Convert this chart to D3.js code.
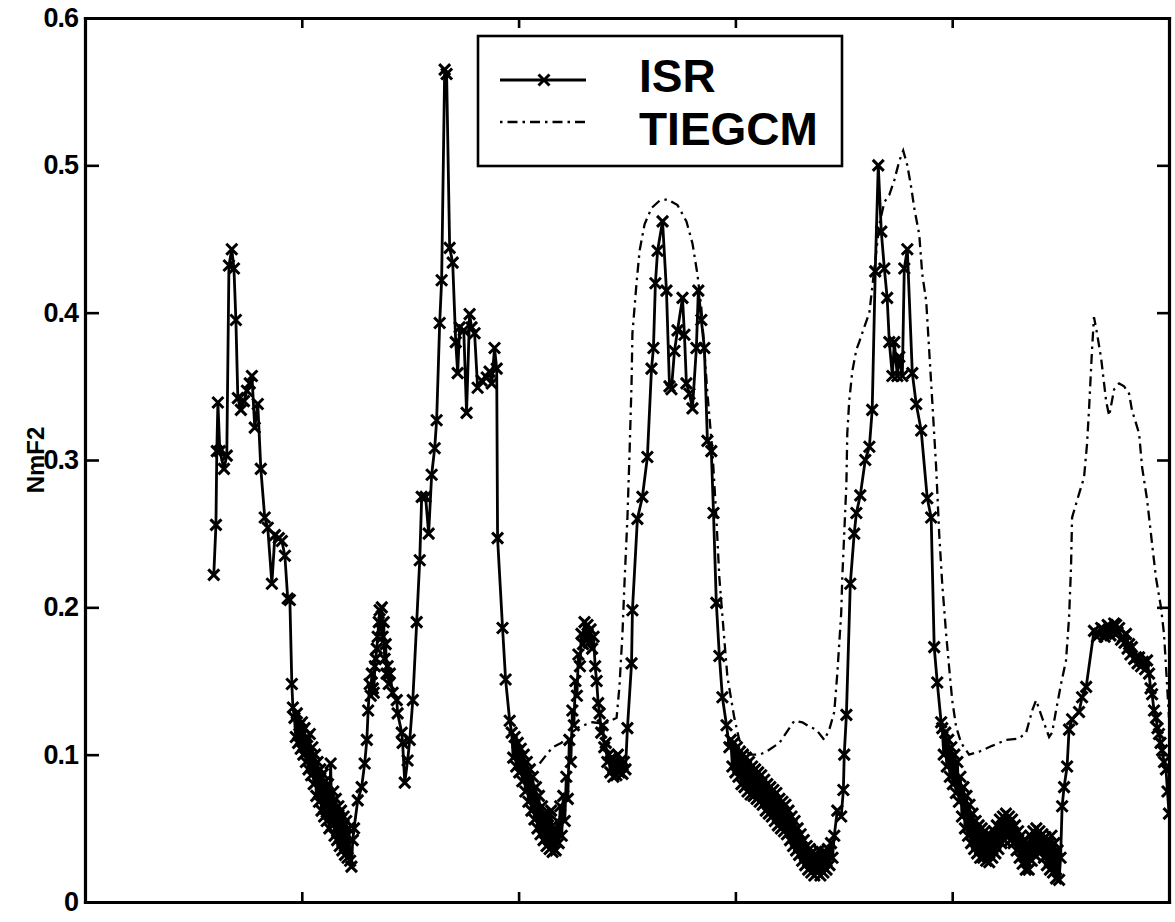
<!doctype html>
<html>

<head>
    <meta charset="utf-8">
    <title>NmF2 ISR vs TIEGCM</title>
    <script type="text/javascript" src="https://cdn.jsdelivr.net/npm/d3@7"></script>
    <style type="text/css">
        html,
        body {
            margin: 0;
            padding: 0;
            background: #fff;
        }

        svg text {
            font-family: "Liberation Sans", Arial, Helvetica, sans-serif;
        }
    </style>

    <script type="text/javascript">
        // [day, NmF2]; x axis runs 0..5 days and is unlabelled
        var isrSamples = [
            [0.594, 0.222], [0.604, 0.256], [0.608, 0.306], [0.613, 0.339], [0.622, 0.306], [0.641, 0.294],
            [0.654, 0.303], [0.664, 0.432], [0.677, 0.443], [0.687, 0.430], [0.696, 0.395], [0.705, 0.342],
            [0.719, 0.334], [0.733, 0.340], [0.747, 0.347], [0.760, 0.352], [0.770, 0.357], [0.783, 0.322],
            [0.797, 0.338], [0.811, 0.294], [0.829, 0.261], [0.843, 0.254], [0.862, 0.216], [0.876, 0.249],
            [0.894, 0.247], [0.908, 0.245], [0.922, 0.235], [0.935, 0.206], [0.945, 0.205], [0.954, 0.148],
            [0.959, 0.132],
            // first night
            [0.966, 0.125], [0.972, 0.112], [0.977, 0.128], [0.983, 0.108], [0.989, 0.120], [0.995, 0.104],
            [1.001, 0.122], [1.007, 0.100], [1.013, 0.118], [1.019, 0.095], [1.025, 0.112], [1.031, 0.090],
            [1.037, 0.114], [1.043, 0.086], [1.049, 0.105], [1.055, 0.080], [1.061, 0.100], [1.067, 0.072],
            [1.073, 0.095], [1.079, 0.068], [1.085, 0.090], [1.091, 0.062], [1.097, 0.087], [1.103, 0.058],
            [1.109, 0.082], [1.115, 0.055], [1.121, 0.080], [1.127, 0.050], [1.133, 0.094], [1.139, 0.052],
            [1.145, 0.075], [1.151, 0.045], [1.157, 0.070], [1.163, 0.042], [1.169, 0.065], [1.175, 0.038],
            [1.181, 0.062], [1.187, 0.035], [1.193, 0.058], [1.199, 0.032], [1.205, 0.055], [1.211, 0.030],
            [1.217, 0.050], [1.223, 0.028], [1.229, 0.024], [1.235, 0.042], [1.241, 0.050], [1.258, 0.069],
            [1.276, 0.078], [1.290, 0.094], [1.300, 0.110], [1.306, 0.130], [1.313, 0.148], [1.318, 0.140],
            [1.323, 0.155], [1.328, 0.145], [1.332, 0.142], [1.337, 0.160], [1.341, 0.165], [1.346, 0.172],
            [1.350, 0.180], [1.355, 0.190], [1.359, 0.198], [1.364, 0.185], [1.369, 0.200], [1.373, 0.180],
            [1.378, 0.190], [1.382, 0.165], [1.387, 0.175], [1.391, 0.155], [1.396, 0.160], [1.401, 0.148],
            [1.406, 0.155], [1.419, 0.142], [1.438, 0.137], [1.442, 0.128], [1.461, 0.115], [1.465, 0.108],
            [1.475, 0.081], [1.488, 0.096], [1.498, 0.110],
            // second day
            [1.512, 0.137], [1.530, 0.190], [1.544, 0.232], [1.553, 0.275], [1.571, 0.275], [1.585, 0.250],
            [1.599, 0.290], [1.613, 0.308], [1.622, 0.327], [1.636, 0.393], [1.645, 0.422], [1.659, 0.565],
            [1.668, 0.562], [1.682, 0.444], [1.696, 0.434], [1.710, 0.380], [1.719, 0.359], [1.728, 0.390],
            [1.747, 0.388], [1.760, 0.332], [1.774, 0.399], [1.783, 0.390], [1.797, 0.386], [1.811, 0.349],
            [1.829, 0.354], [1.853, 0.356], [1.866, 0.360], [1.876, 0.352], [1.889, 0.376], [1.899, 0.362],
            [1.903, 0.247], [1.926, 0.186], [1.940, 0.151], [1.959, 0.123],
            // second night
            [1.968, 0.115], [1.975, 0.098], [1.982, 0.112], [1.989, 0.092], [1.996, 0.108], [2.003, 0.088],
            [2.010, 0.104], [2.017, 0.082], [2.024, 0.100], [2.031, 0.075], [2.038, 0.095], [2.045, 0.068],
            [2.052, 0.090], [2.059, 0.062], [2.066, 0.085], [2.073, 0.056], [2.080, 0.078], [2.087, 0.050],
            [2.094, 0.072], [2.101, 0.046], [2.108, 0.065], [2.115, 0.042], [2.122, 0.060], [2.129, 0.038],
            [2.136, 0.058], [2.143, 0.036], [2.150, 0.062], [2.157, 0.034], [2.164, 0.050], [2.171, 0.035],
            [2.178, 0.055], [2.185, 0.040], [2.192, 0.065], [2.199, 0.045], [2.206, 0.072], [2.213, 0.055],
            [2.220, 0.085], [2.227, 0.070], [2.234, 0.110], [2.241, 0.095], [2.248, 0.130], [2.255, 0.120],
            [2.262, 0.150], [2.269, 0.140], [2.276, 0.168], [2.283, 0.160], [2.290, 0.182], [2.297, 0.175],
            [2.304, 0.190], [2.311, 0.178], [2.318, 0.188], [2.325, 0.176], [2.332, 0.185], [2.339, 0.172],
            [2.346, 0.180], [2.353, 0.160], [2.360, 0.150], [2.367, 0.135], [2.374, 0.128], [2.381, 0.115],
            [2.388, 0.120], [2.395, 0.105], [2.402, 0.108], [2.409, 0.095], [2.416, 0.100], [2.423, 0.088],
            [2.430, 0.098], [2.437, 0.085], [2.444, 0.095], [2.451, 0.086], [2.458, 0.100], [2.465, 0.088],
            [2.472, 0.096], [2.479, 0.087], [2.486, 0.095], [2.493, 0.090],
            // third day
            [2.502, 0.118], [2.521, 0.162], [2.525, 0.198], [2.548, 0.260], [2.571, 0.275], [2.594, 0.302],
            [2.613, 0.362], [2.622, 0.376], [2.631, 0.420], [2.641, 0.442], [2.664, 0.462], [2.682, 0.415],
            [2.696, 0.350], [2.705, 0.348], [2.719, 0.374], [2.733, 0.388], [2.756, 0.410], [2.765, 0.385],
            [2.774, 0.352], [2.788, 0.345], [2.802, 0.335], [2.820, 0.376], [2.829, 0.415], [2.843, 0.395],
            [2.857, 0.376], [2.871, 0.313], [2.889, 0.306], [2.899, 0.264], [2.912, 0.203], [2.926, 0.167],
            [2.940, 0.139], [2.959, 0.120], [2.972, 0.105],
            // third night
            [2.979, 0.110], [2.986, 0.092], [2.993, 0.108], [3.000, 0.088], [3.007, 0.105], [3.014, 0.085],
            [3.021, 0.102], [3.028, 0.080], [3.035, 0.100], [3.042, 0.078], [3.049, 0.098], [3.056, 0.075],
            [3.063, 0.095], [3.070, 0.073], [3.077, 0.092], [3.084, 0.072], [3.091, 0.090], [3.098, 0.070],
            [3.105, 0.088], [3.112, 0.068], [3.119, 0.086], [3.126, 0.066], [3.133, 0.083], [3.140, 0.062],
            [3.147, 0.080], [3.154, 0.060], [3.161, 0.078], [3.168, 0.058], [3.175, 0.076], [3.182, 0.055],
            [3.189, 0.074], [3.196, 0.052], [3.203, 0.070], [3.210, 0.050], [3.217, 0.068], [3.224, 0.048],
            [3.231, 0.066], [3.238, 0.046], [3.245, 0.062], [3.252, 0.042], [3.259, 0.058], [3.266, 0.038],
            [3.273, 0.055], [3.280, 0.035], [3.287, 0.050], [3.294, 0.032], [3.301, 0.046], [3.308, 0.028],
            [3.315, 0.042], [3.322, 0.025], [3.329, 0.038], [3.336, 0.022], [3.343, 0.036], [3.350, 0.020],
            [3.357, 0.034], [3.364, 0.018], [3.371, 0.032], [3.378, 0.020], [3.385, 0.035], [3.392, 0.018],
            [3.399, 0.033], [3.406, 0.020], [3.413, 0.034], [3.420, 0.022], [3.427, 0.036], [3.434, 0.025],
            [3.441, 0.040], [3.448, 0.030], [3.456, 0.045],
            // fourth day
            [3.470, 0.062], [3.488, 0.058], [3.498, 0.076], [3.502, 0.100], [3.512, 0.127], [3.530, 0.216],
            [3.548, 0.250], [3.558, 0.264], [3.576, 0.276], [3.599, 0.300], [3.618, 0.309], [3.631, 0.334],
            [3.645, 0.428], [3.659, 0.500], [3.673, 0.455], [3.687, 0.430], [3.700, 0.410], [3.710, 0.380],
            [3.724, 0.357], [3.733, 0.380], [3.747, 0.357], [3.756, 0.370], [3.770, 0.357], [3.779, 0.430],
            [3.793, 0.443], [3.816, 0.359], [3.834, 0.338], [3.857, 0.320], [3.885, 0.274], [3.903, 0.261],
            [3.917, 0.173], [3.931, 0.149], [3.949, 0.122],
            // fourth night
            [3.954, 0.118], [3.961, 0.100], [3.968, 0.115], [3.975, 0.092], [3.982, 0.110], [3.989, 0.085],
            [3.996, 0.105], [4.003, 0.080], [4.010, 0.100], [4.017, 0.074], [4.024, 0.095], [4.031, 0.068],
            [4.038, 0.085], [4.045, 0.058], [4.052, 0.078], [4.059, 0.050], [4.066, 0.072], [4.073, 0.045],
            [4.080, 0.066], [4.087, 0.040], [4.094, 0.060], [4.101, 0.036], [4.108, 0.055], [4.115, 0.033],
            [4.122, 0.052], [4.129, 0.030], [4.136, 0.050], [4.143, 0.030], [4.150, 0.048], [4.157, 0.028],
            [4.164, 0.046], [4.171, 0.027], [4.178, 0.045], [4.185, 0.030], [4.192, 0.048], [4.199, 0.033],
            [4.206, 0.052], [4.213, 0.036], [4.220, 0.056], [4.227, 0.040], [4.234, 0.058], [4.241, 0.042],
            [4.248, 0.060], [4.255, 0.045], [4.262, 0.058], [4.269, 0.042], [4.276, 0.056], [4.283, 0.040],
            [4.290, 0.052], [4.297, 0.035], [4.304, 0.048], [4.311, 0.030], [4.318, 0.045], [4.325, 0.026],
            [4.332, 0.042], [4.339, 0.022], [4.346, 0.040], [4.353, 0.022], [4.360, 0.045], [4.367, 0.028],
            [4.374, 0.048], [4.381, 0.032], [4.388, 0.050], [4.395, 0.035], [4.402, 0.048], [4.409, 0.034],
            [4.416, 0.046], [4.423, 0.030], [4.430, 0.044], [4.437, 0.025], [4.444, 0.040], [4.451, 0.022],
            [4.458, 0.045], [4.465, 0.020], [4.472, 0.040], [4.479, 0.016], [4.486, 0.035], [4.493, 0.015],
            [4.500, 0.030],
            // fifth day
            [4.507, 0.065], [4.516, 0.078], [4.530, 0.092], [4.539, 0.117], [4.553, 0.124], [4.585, 0.129],
            [4.599, 0.139], [4.618, 0.146], [4.654, 0.184], [4.668, 0.180], [4.677, 0.182], [4.687, 0.186],
            [4.696, 0.185], [4.703, 0.180], [4.710, 0.182], [4.717, 0.188], [4.724, 0.187], [4.730, 0.181],
            [4.737, 0.184], [4.747, 0.189], [4.756, 0.188], [4.763, 0.183], [4.770, 0.186], [4.779, 0.178],
            [4.788, 0.180], [4.795, 0.176], [4.802, 0.182], [4.809, 0.172], [4.816, 0.175], [4.822, 0.168],
            [4.829, 0.173], [4.839, 0.165], [4.848, 0.166], [4.855, 0.162], [4.862, 0.166], [4.871, 0.160],
            [4.880, 0.163], [4.890, 0.158], [4.899, 0.164], [4.908, 0.155], [4.915, 0.145], [4.922, 0.141],
            [4.931, 0.130], [4.940, 0.125], [4.947, 0.118], [4.954, 0.114], [4.961, 0.108], [4.968, 0.103],
            [4.977, 0.095], [4.986, 0.090], [4.993, 0.075], [5.000, 0.060]
        ]

        var tiegcmSamples = [
            [2.097, 0.094], [2.129, 0.100], [2.157, 0.105], [2.198, 0.108], [2.235, 0.114], [2.281, 0.119],
            [2.341, 0.122], [2.396, 0.121], [2.452, 0.125], [2.465, 0.146], [2.479, 0.182], [2.488, 0.215],
            [2.502, 0.261], [2.512, 0.306], [2.521, 0.352], [2.525, 0.386], [2.544, 0.420], [2.558, 0.442],
            [2.581, 0.460], [2.613, 0.471], [2.650, 0.476], [2.687, 0.477], [2.733, 0.473], [2.774, 0.462],
            [2.802, 0.447], [2.825, 0.426], [2.843, 0.403], [2.857, 0.374], [2.871, 0.345], [2.894, 0.306],
            [2.912, 0.261], [2.926, 0.220], [2.949, 0.178], [2.963, 0.153], [2.995, 0.125], [3.018, 0.110],
            [3.065, 0.100], [3.111, 0.100], [3.143, 0.102], [3.203, 0.108], [3.249, 0.118], [3.272, 0.123],
            [3.309, 0.122], [3.341, 0.119], [3.373, 0.117], [3.410, 0.110], [3.433, 0.117], [3.456, 0.129],
            [3.470, 0.155], [3.488, 0.196], [3.493, 0.220], [3.502, 0.250], [3.512, 0.284], [3.516, 0.318],
            [3.525, 0.340], [3.539, 0.360], [3.558, 0.375], [3.571, 0.380], [3.594, 0.390], [3.618, 0.400],
            [3.641, 0.430], [3.664, 0.460], [3.687, 0.475], [3.710, 0.480], [3.733, 0.490], [3.756, 0.503],
            [3.774, 0.510], [3.793, 0.500], [3.811, 0.485], [3.825, 0.471], [3.848, 0.453], [3.862, 0.426],
            [3.880, 0.408], [3.894, 0.374], [3.908, 0.340], [3.926, 0.295], [3.940, 0.250], [3.954, 0.216],
            [3.972, 0.182], [3.986, 0.159], [4.000, 0.137], [4.018, 0.119], [4.041, 0.108], [4.078, 0.100],
            [4.124, 0.102], [4.184, 0.106], [4.249, 0.110], [4.309, 0.111], [4.341, 0.115], [4.369, 0.130],
            [4.387, 0.137], [4.415, 0.125], [4.447, 0.112], [4.461, 0.115], [4.479, 0.130], [4.502, 0.148],
            [4.525, 0.164], [4.539, 0.193], [4.548, 0.227], [4.553, 0.261], [4.585, 0.277], [4.608, 0.288],
            [4.622, 0.311], [4.631, 0.334], [4.645, 0.375], [4.654, 0.397], [4.668, 0.386], [4.687, 0.369],
            [4.710, 0.340], [4.724, 0.330], [4.747, 0.348], [4.770, 0.352], [4.793, 0.350], [4.816, 0.345],
            [4.829, 0.334], [4.862, 0.318], [4.876, 0.295], [4.899, 0.273], [4.922, 0.243], [4.940, 0.220],
            [4.963, 0.200], [4.977, 0.182], [4.986, 0.160], [5.000, 0.125]
        ]

        var yTicks = [0, 0.1, 0.2, 0.3, 0.4, 0.5, 0.6]
        var xTicks = [0, 1, 2, 3, 4, 5]
        var seriesNames = ["ISR", "TIEGCM"]

        document.addEventListener("DOMContentLoaded", function (event) {

            var width = 1175,
                height = 922

            var margin = { left: 85, right: 6, top: 18, bottom: 20 }

            var svg = d3.select("#chart")
                .append("svg")
                .attr("width", width)
                .attr("height", height)

            svg.append("rect")
                .attr("width", width)
                .attr("height", height)
                .attr("fill", "#fff")

            var x = d3.scaleLinear()
                .domain([0, 5])
                .range([margin.left, width - margin.right])

            var y = d3.scaleLinear()
                .domain([0, 0.6])
                .range([height - margin.bottom, margin.top])

            svg.append("clipPath")
                .attr("id", "plot-clip")
                .append("rect")
                .attr("x", x(0))
                .attr("y", y(0.6))
                .attr("width", x(5) - x(0))
                .attr("height", y(0) - y(0.6))

            var line = d3.line()
                .x(function (d) { return x(d[0]) })
                .y(function (d) { return y(d[1]) })

            var plot = svg.append("g")
                .attr("clip-path", "url(#plot-clip)")

            // model curve, dash-dot
            plot.append("path")
                .datum(tiegcmSamples)
                .attr("d", line)
                .attr("fill", "none")
                .attr("stroke", "#000")
                .attr("stroke-width", 2.3)
                .attr("stroke-dasharray", "10,5,2.5,5")

            // radar curve with x markers
            plot.append("path")
                .datum(isrSamples)
                .attr("d", line)
                .attr("fill", "none")
                .attr("stroke", "#000")
                .attr("stroke-width", 2.8)
                .attr("stroke-linejoin", "round")

            var cross = "M-5.5,-5.5L5.5,5.5M-5.5,5.5L5.5,-5.5"

            plot.selectAll("path.mark")
                .data(isrSamples)
                .enter()
                .append("path")
                .attr("class", "mark")
                .attr("d", cross)
                .attr("transform", function (d) {
                    return "translate(" + x(d[0]) + "," + y(d[1]) + ")"
                })
                .attr("stroke", "#000")
                .attr("stroke-width", 3)

            // frame: ticks point inward on all four sides
            var fmt = function (d) { return d === 0 ? "0" : d3.format(".1f")(d) }

            var left = svg.append("g")
                .attr("transform", "translate(" + x(0) + ",0)")
                .call(d3.axisLeft(y).tickValues(yTicks).tickFormat(fmt)
                    .tickSizeInner(-14).tickSizeOuter(0).tickPadding(7))

            svg.append("g")
                .attr("transform", "translate(" + x(5) + ",0)")
                .call(d3.axisRight(y).tickValues(yTicks).tickFormat("")
                    .tickSizeInner(-12).tickSizeOuter(0))

            svg.append("g")
                .attr("transform", "translate(0," + y(0) + ")")
                .call(d3.axisBottom(x).tickValues(xTicks).tickFormat("")
                    .tickSizeInner(-10).tickSizeOuter(0))

            svg.append("g")
                .attr("transform", "translate(0," + y(0.6) + ")")
                .call(d3.axisTop(x).tickValues(xTicks).tickFormat("")
                    .tickSizeInner(-10).tickSizeOuter(0))

            svg.selectAll(".domain")
                .attr("stroke", "#000")
                .attr("stroke-width", 3.2)
                .attr("stroke-linecap", "square")

            svg.selectAll(".tick line")
                .attr("stroke", "#000")
                .attr("stroke-width", 2.6)

            left.selectAll(".tick text")
                .attr("fill", "#000")
                .style("font-size", "27px")
                .style("font-weight", "bold")
                .style("letter-spacing", "-1px")

            svg.append("text")
                .attr("transform", "translate(44," + y(0.3) + ") rotate(-90)")
                .attr("text-anchor", "middle")
                .style("font-size", "24px")
                .style("font-weight", "bold")
                .text("NmF2")

            // legend
            var legend = svg.append("g")
                .attr("transform", "translate(478,36)")

            legend.append("rect")
                .attr("width", 364)
                .attr("height", 130)
                .attr("fill", "#fff")
                .attr("stroke", "#000")
                .attr("stroke-width", 2.6)

            var rows = legend.selectAll("g.row")
                .data(seriesNames)
                .enter()
                .append("g")
                .attr("class", "row")
                .attr("transform", function (d, i) { return "translate(0," + (44 + i * 42) + ")" })

            rows.append("line")
                .attr("x1", 22)
                .attr("x2", 108)
                .attr("stroke", "#000")
                .attr("stroke-width", function (d, i) { return i === 0 ? 2.8 : 2.3 })
                .attr("stroke-dasharray", function (d, i) { return i === 0 ? null : "2.5,5,10,5" })

            rows.filter(function (d, i) { return i === 0 })
                .append("path")
                .attr("d", cross)
                .attr("transform", "translate(66,0)")
                .attr("stroke", "#000")
                .attr("stroke-width", 3)

            rows.append("text")
                .attr("x", 161)
                .attr("y", function (d, i) { return i === 0 ? 12 : 23 })
                .style("font-size", "46px")
                .style("font-weight", "bold")
                .text(function (d) { return d })

        })
    </script>

</head>

<body>
    <div id="chart"></div>
</body>

</html>
